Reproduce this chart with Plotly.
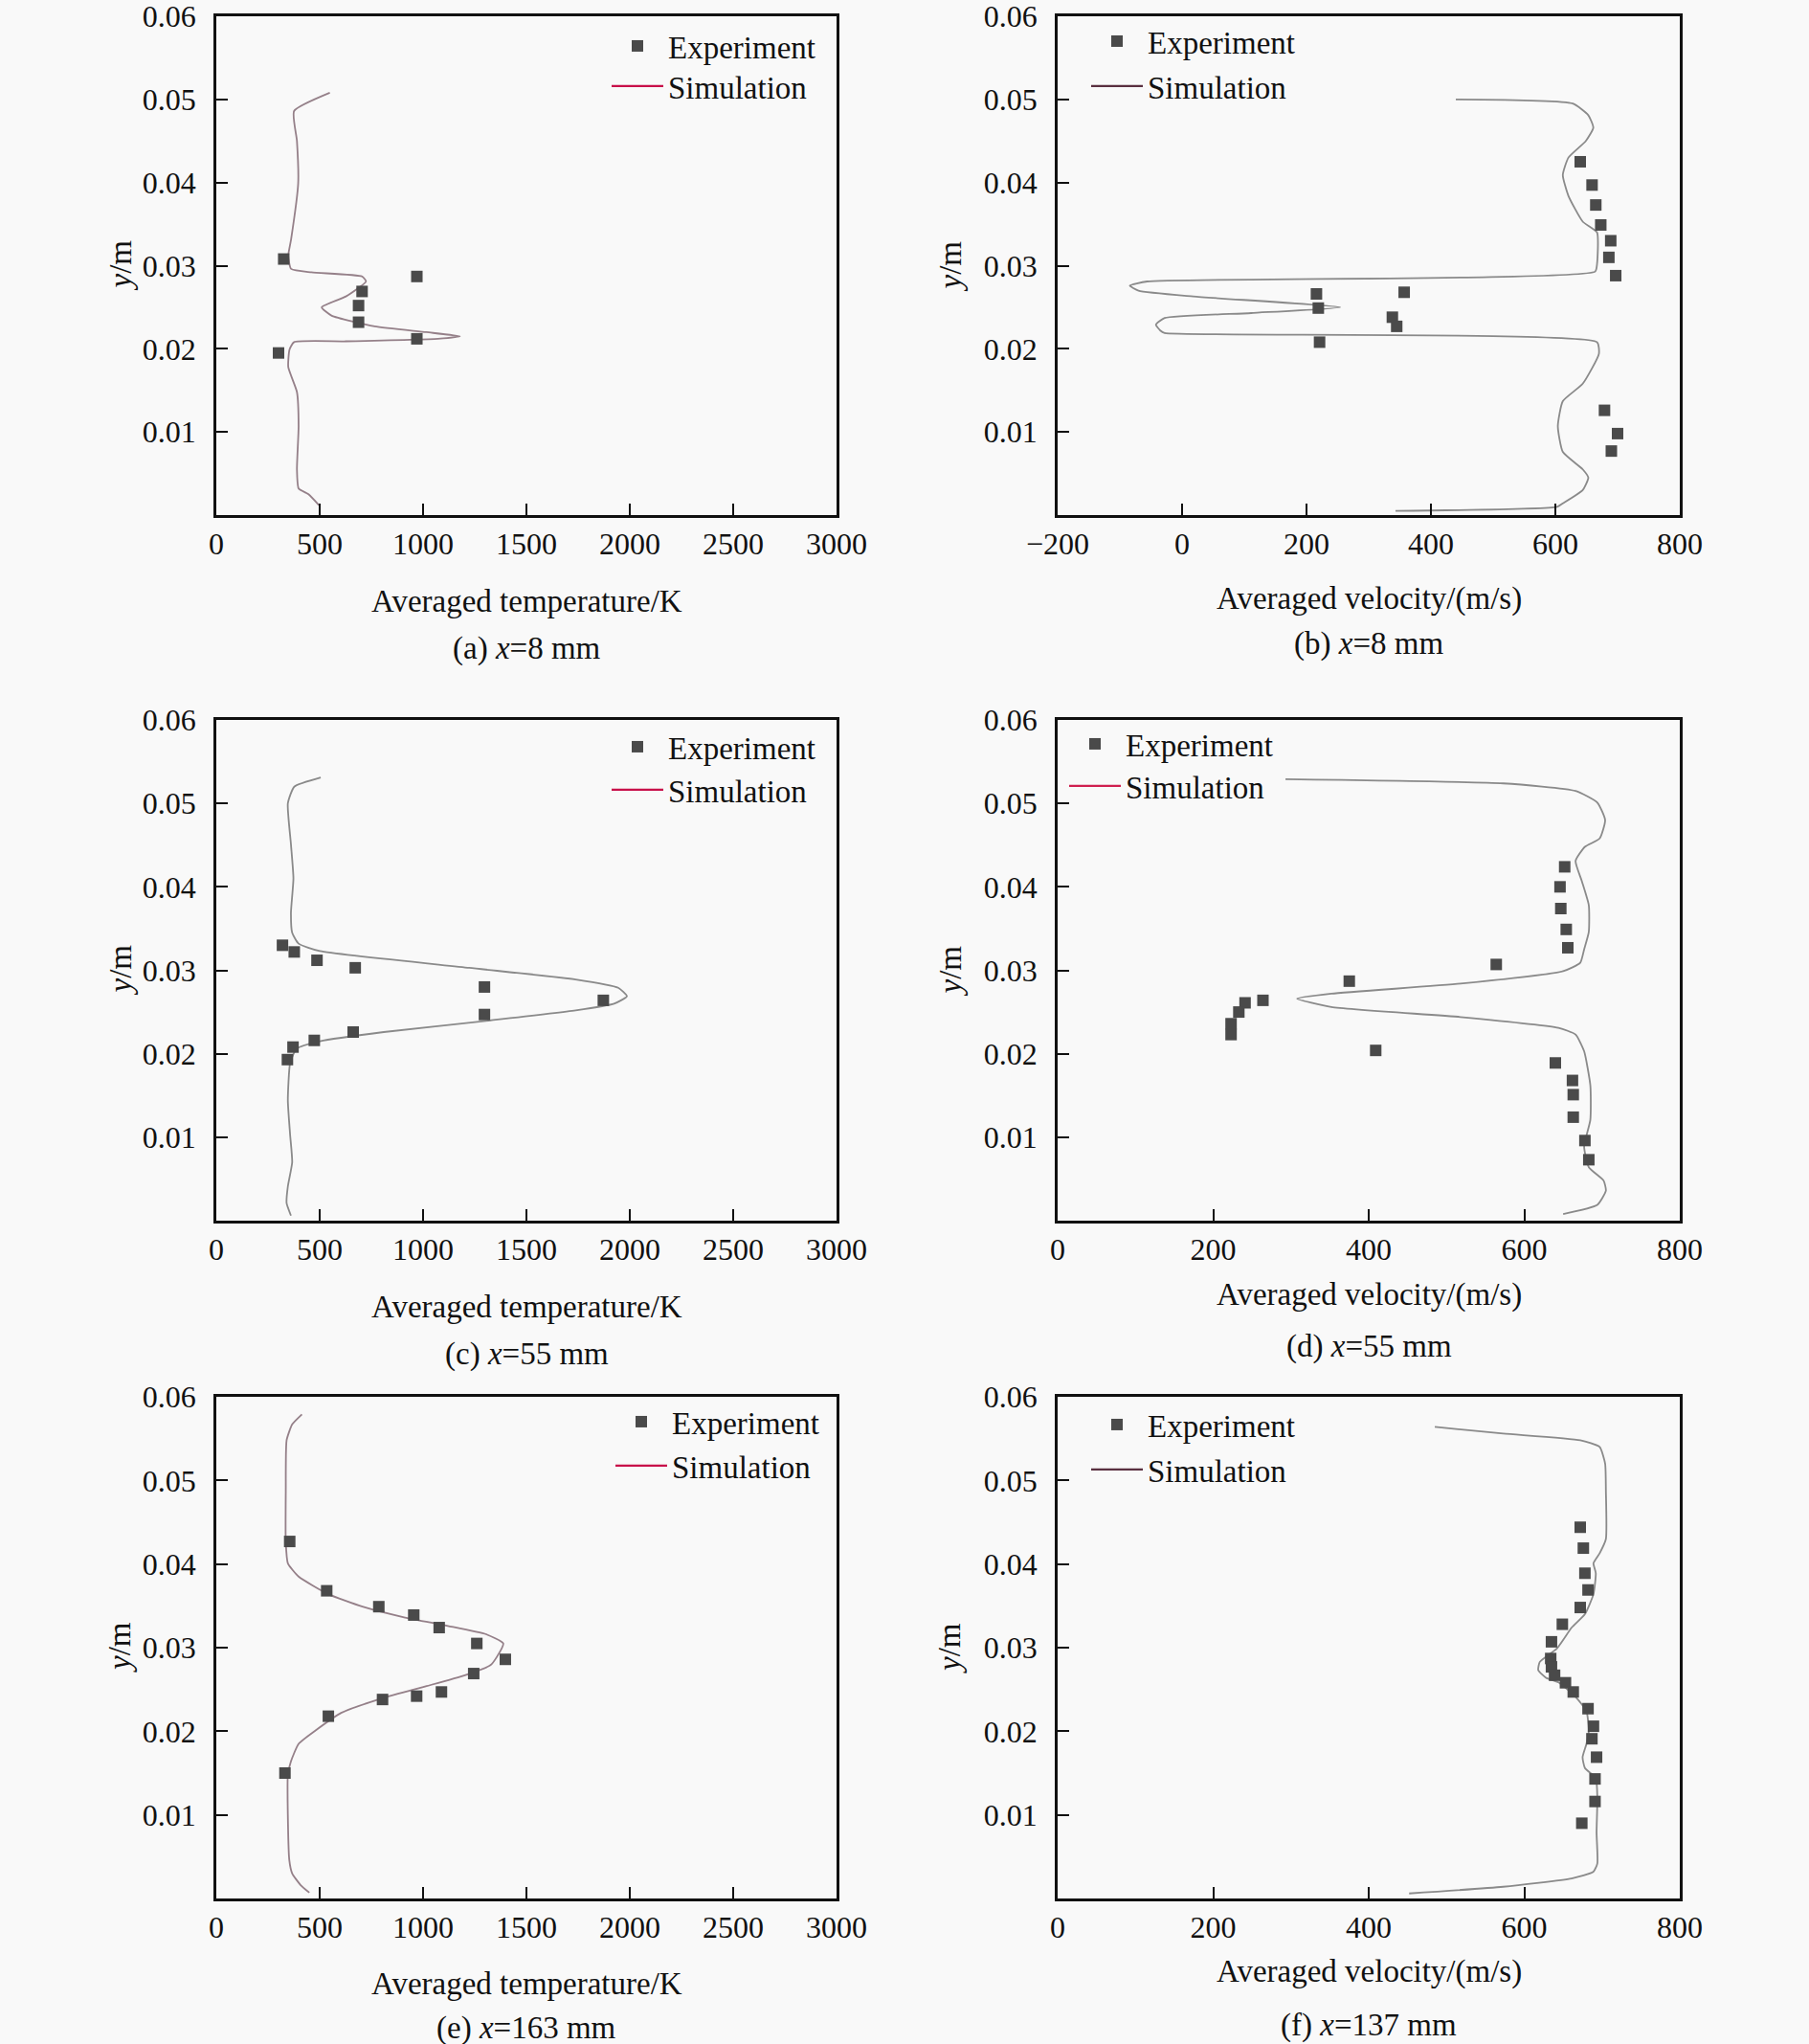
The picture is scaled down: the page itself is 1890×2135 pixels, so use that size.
import plotly.graph_objects as go

# ---------------- data ----------------
# (a) x = 8 mm, temperature
a_exp_T = [326, 970, 705, 688, 688, 970, 301]
a_exp_y = [0.0308, 0.0287, 0.0269, 0.0252, 0.0232, 0.0212, 0.0195]
a_sim_T = [549, 376, 390, 396, 362, 348, 362, 460, 705, 724, 627, 510, 557, 766, 1017, 1178,
           1072, 627, 376, 354, 348, 390, 398, 390, 398, 446, 496]
a_sim_y = [0.0508, 0.0486, 0.0450, 0.0399, 0.0332, 0.0312, 0.0296, 0.0292, 0.0287, 0.0281, 0.0263,
           0.0250, 0.0240, 0.0227, 0.0220, 0.0215, 0.0212, 0.0209, 0.0208, 0.0199, 0.0178, 0.0148,
           0.0107, 0.0055, 0.0032, 0.0025, 0.0012]

# (b) x = 8 mm, velocity
b_exp_v = [640, 659, 665, 673, 689, 686, 697, 357, 216, 219, 338, 345, 221, 679, 700, 690]
b_exp_y = [0.0425, 0.0397, 0.0373, 0.0349, 0.0330, 0.0310, 0.0288, 0.0268, 0.0266, 0.0249,
           0.0238, 0.0227, 0.0208, 0.0126, 0.0098, 0.0077]
b_sim_v = [440, 628, 653, 661, 649, 621, 612, 621, 644, 667, 667, 664, -56, -84, -70, 18, 254,
           111, -28, -42, -35, -28, 667, 670, 644, 612, 604, 612, 644, 653, 644, 612, 603, 343]
b_sim_y = [0.0500, 0.0495, 0.0481, 0.0466, 0.0450, 0.0430, 0.0409, 0.0384, 0.0353, 0.0340,
           0.0302, 0.0293, 0.0281, 0.0276, 0.0270, 0.0263, 0.0250, 0.0243, 0.0237, 0.0229,
           0.0222, 0.0219, 0.0208, 0.0194, 0.0158, 0.0137, 0.0107, 0.0076, 0.0055, 0.0045,
           0.0030, 0.0014, 0.0010, 0.0005]

# (c) x = 55 mm, temperature
c_exp_T = [320, 377, 487, 672, 1297, 1872, 1297, 662, 474, 371, 344]
c_exp_y = [0.0330, 0.0322, 0.0312, 0.0303, 0.0280, 0.0264, 0.0247, 0.0226, 0.0216, 0.0208, 0.0193]
c_sim_T = [505, 377, 346, 361, 373, 361, 367, 398, 501, 1223, 1738, 1944, 1986, 1924, 1738, 1326,
           810, 501, 388, 357, 346, 357, 367, 346, 340, 361]
c_sim_y = [0.0531, 0.0520, 0.0500, 0.0451, 0.0410, 0.0369, 0.0345, 0.0332, 0.0323, 0.0303,
           0.0289, 0.0279, 0.0269, 0.0260, 0.0252, 0.0240, 0.0226, 0.0215, 0.0206, 0.0189,
           0.0144, 0.0103, 0.0070, 0.0041, 0.0021, 0.0006]

# (d) x = 55 mm, velocity
d_exp_v = [652, 646, 647, 654, 656, 564, 375, 264, 241, 233, 223, 223, 409, 640, 662, 663, 663, 678, 683]
d_exp_y = [0.0424, 0.0400, 0.0374, 0.0349, 0.0327, 0.0307, 0.0287, 0.0264, 0.0261, 0.0250,
           0.0236, 0.0223, 0.0204, 0.0189, 0.0168, 0.0151, 0.0124, 0.0096, 0.0073]
d_sim_v = [293, 573, 666, 694, 704, 697, 678, 666, 674, 683, 683, 677, 672, 650, 518, 352, 308,
           352, 518, 644, 666, 677, 685, 685, 677, 683, 702, 705, 694, 650]
d_sim_y = [0.0529, 0.0524, 0.0515, 0.0501, 0.0480, 0.0458, 0.0448, 0.0431, 0.0407, 0.0378,
           0.0346, 0.0325, 0.0309, 0.0299, 0.0284, 0.0272, 0.0266, 0.0256, 0.0244, 0.0231,
           0.0223, 0.0203, 0.0162, 0.0121, 0.0089, 0.0064, 0.0048, 0.0036, 0.0019, 0.0008]

# (e) x = 163 mm, temperature
e_exp_T = [355, 534, 786, 955, 1078, 1260, 1398, 1245, 1089, 969, 804, 542, 332]
e_exp_y = [0.0427, 0.0368, 0.0349, 0.0339, 0.0324, 0.0305, 0.0286, 0.0269, 0.0247, 0.0242,
           0.0238, 0.0218, 0.0150]
e_sim_T = [414, 367, 340, 336, 336, 346, 398, 542, 707, 913, 1120, 1305, 1388, 1357, 1326, 1202,
           1017, 810, 604, 480, 398, 361, 346, 346, 353, 367, 408, 450]
e_sim_y = [0.0579, 0.0567, 0.0548, 0.0487, 0.0426, 0.0401, 0.0385, 0.0364, 0.0349, 0.0336,
           0.0326, 0.0316, 0.0305, 0.0289, 0.0279, 0.0267, 0.0254, 0.0240, 0.0222, 0.0201,
           0.0185, 0.0164, 0.0148, 0.0099, 0.0046, 0.0030, 0.0016, 0.0007]

# (f) x = 137 mm, velocity
f_exp_v = [672, 676, 678, 682, 672, 649, 635, 634, 635, 639, 653, 663, 682, 689, 687, 693, 691, 691, 674]
f_exp_y = [0.0444, 0.0419, 0.0389, 0.0369, 0.0348, 0.0328, 0.0307, 0.0287, 0.0277, 0.0267,
           0.0258, 0.0247, 0.0227, 0.0206, 0.0191, 0.0169, 0.0143, 0.0116, 0.0090]
f_sim_v = [485, 573, 672, 697, 704, 705, 705, 697, 689, 692, 689, 678, 661, 642, 620, 618, 628,
           645, 667, 680, 683, 680, 675, 678, 692, 694, 693, 694, 689, 661, 573, 452]
f_sim_y = [0.0564, 0.0556, 0.0548, 0.0540, 0.0520, 0.0487, 0.0430, 0.0413, 0.0401, 0.0389,
           0.0364, 0.0340, 0.0324, 0.0299, 0.0283, 0.0273, 0.0264, 0.0258, 0.0240, 0.0224,
           0.0201, 0.0185, 0.0169, 0.0156, 0.0144, 0.0120, 0.0079, 0.0042, 0.0032, 0.0024,
           0.0014, 0.0006]

y_ticks = [0.01, 0.02, 0.03, 0.04, 0.05, 0.06]
y_ticktext = ["0.01", "0.02", "0.03", "0.04", "0.05", "0.06"]
T_ticks = [0, 500, 1000, 1500, 2000, 2500, 3000]
vb_ticks = [-200, 0, 200, 400, 600, 800]
v_ticks = [0, 200, 400, 600, 800]

T_title = "Averaged temperature/K"
v_title = "Averaged velocity/(m/s)"
captions = ["(a) <i>x</i>=8 mm", "(b) <i>x</i>=8 mm", "(c) <i>x</i>=55 mm",
            "(d) <i>x</i>=55 mm", "(e) <i>x</i>=163 mm", "(f) <i>x</i>=137 mm"]

# ---------------- layout geometry (pixels) ----------------
W, H = 1890, 2135
FONT = "Liberation Serif"
col_px = [(226, 874), (1105, 1755)]
row_px = [(17, 538), (752, 1275), (1459, 1983)]

# legend: left x, centre y of "Experiment" entry, centre y of "Simulation" entry
panels = [
    dict(ex=a_exp_T, ey=a_exp_y, sx=a_sim_T, sy=a_sim_y, rng=[0, 3000], ticks=T_ticks, title=T_title,
         col=0, row=0, leg=(634, 48, 90), simcol="#958089", legcol="#c8104a", title_y=628, cap_y=677),
    dict(ex=b_exp_v, ey=b_exp_y, sx=b_sim_v, sy=b_sim_y, rng=[-200, 800], ticks=vb_ticks, title=v_title,
         col=1, row=0, leg=(1135, 43, 90), simcol="#8a8a8a", legcol="#5a3040", title_y=625, cap_y=673),
    dict(ex=c_exp_T, ey=c_exp_y, sx=c_sim_T, sy=c_sim_y, rng=[0, 3000], ticks=T_ticks, title=T_title,
         col=0, row=1, leg=(634, 780, 825), simcol="#8a8a8a", legcol="#c8104a", title_y=1365, cap_y=1414),
    dict(ex=d_exp_v, ey=d_exp_y, sx=d_sim_v, sy=d_sim_y, rng=[0, 800], ticks=v_ticks, title=v_title,
         col=1, row=1, leg=(1112, 777, 821), simcol="#8a8a8a", legcol="#d02050", title_y=1352, cap_y=1406),
    dict(ex=e_exp_T, ey=e_exp_y, sx=e_sim_T, sy=e_sim_y, rng=[0, 3000], ticks=T_ticks, title=T_title,
         col=0, row=2, leg=(638, 1485, 1531), simcol="#958089", legcol="#c8104a", title_y=2072, cap_y=2118),
    dict(ex=f_exp_v, ey=f_exp_y, sx=f_sim_v, sy=f_sim_y, rng=[0, 800], ticks=v_ticks, title=v_title,
         col=1, row=2, leg=(1135, 1488, 1535), simcol="#8a8a8a", legcol="#5a3040", title_y=2059, cap_y=2115),
]

fig = go.Figure()
annotations = []
layout = dict(
    width=W, height=H,
    margin=dict(l=0, r=0, t=0, b=0, pad=0, autoexpand=False),
    paper_bgcolor="#f9f9f9", plot_bgcolor="#f9f9f9",
    font=dict(family=FONT, size=32, color="#111111"),
)


def legend_box(x_px, yc_px):
    return dict(x=x_px / W, y=1 - yc_px / H, xanchor="left", yanchor="middle",
                bgcolor="rgba(0,0,0,0)", borderwidth=0, itemwidth=54,
                font=dict(family=FONT, size=33, color="#111111"), tracegroupgap=0)


for i, p in enumerate(panels):
    k = "" if i == 0 else str(i + 1)
    xa, ya = "x" + k, "y" + k
    le = "legend" if i == 0 else "legend" + str(2 * i + 1)
    ls = "legend" + str(2 * i + 2)
    x0, x1 = col_px[p["col"]]
    t0, t1 = row_px[p["row"]]
    xdom = [x0 / W, x1 / W]
    ydom = [1 - t1 / H, 1 - t0 / H]

    fig.add_trace(go.Scatter(x=p["sx"], y=p["sy"], mode="lines", xaxis=xa, yaxis=ya,
                             line=dict(color=p["simcol"], width=1.8, shape="spline", smoothing=0.5),
                             showlegend=False, hoverinfo="skip"))
    fig.add_trace(go.Scatter(x=p["ex"], y=p["ey"], mode="markers", xaxis=xa, yaxis=ya,
                             marker=dict(symbol="square", size=12, color="#4a4a4a"),
                             name="Experiment", legend=le))
    fig.add_trace(go.Scatter(x=[None], y=[None], mode="lines", xaxis=xa, yaxis=ya,
                             line=dict(color=p["legcol"], width=2.2),
                             name="Simulation", legend=ls))

    axcommon = dict(showline=True, linecolor="#111111", linewidth=2.6, mirror=True,
                    ticks="inside", ticklen=12, tickwidth=2.2, tickcolor="#111111", automargin=False,
                    ticklabeloverflow="allow",
                    showgrid=False, zeroline=False, tickfont=dict(family=FONT, size=32, color="#111111"))
    layout["xaxis" + k] = dict(domain=xdom, range=p["rng"], tickvals=p["ticks"], anchor=ya,
                               ticklabelstandoff=0, **axcommon)
    layout["yaxis" + k] = dict(domain=ydom, range=[0, 0.06], tickvals=y_ticks, ticktext=y_ticktext,
                               anchor=xa, ticklabelstandoff=12, **axcommon)

    lx, ye, ys = p["leg"]
    layout[le] = legend_box(lx, ye)
    layout[ls] = legend_box(lx, ys)

    xc = (x0 + x1) / 2
    annotations.append(dict(text=p["title"], x=xc / W, y=1 - p["title_y"] / H, xref="paper", yref="paper",
                            showarrow=False, xanchor="center", yanchor="middle",
                            font=dict(family=FONT, size=33, color="#111111")))
    annotations.append(dict(text=captions[i], x=xc / W, y=1 - p["cap_y"] / H, xref="paper", yref="paper",
                            showarrow=False, xanchor="center", yanchor="middle",
                            font=dict(family=FONT, size=33, color="#111111")))
    ytx = 125 if p["col"] == 0 else 992
    annotations.append(dict(text="<i>y</i>/m", x=ytx / W, y=1 - ((t0 + t1) / 2) / H, xref="paper", yref="paper",
                            showarrow=False, xanchor="center", yanchor="middle", textangle=-90,
                            font=dict(family=FONT, size=33, color="#111111")))

layout["annotations"] = annotations
fig.update_layout(**layout)
fig.write_html("out.html", config={"displayModeBar": False},
               post_script="document.body.style.margin='0';document.body.style.overflow='hidden';")
